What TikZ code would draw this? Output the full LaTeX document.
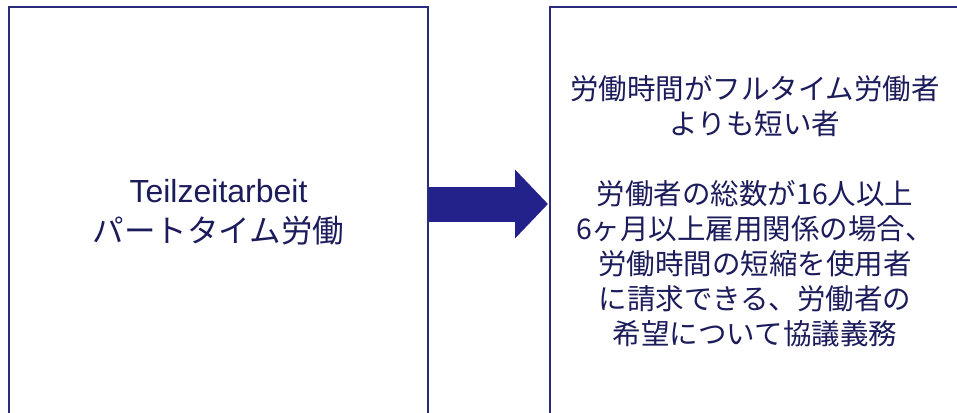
\documentclass[tikz,border=0pt]{standalone}
\usepackage{fontspec}
\setmainfont{Noto Sans CJK JP}
\newfontfamily\latinfont{Liberation Sans}
\usetikzlibrary{arrows.meta}
\definecolor{boxline}{HTML}{2B2B7B}
\definecolor{arrowfill}{HTML}{22228A}
\definecolor{txt}{HTML}{1C1C5C}
\tikzset{
  panel/.style={draw=boxline, line width=2pt, fill=white, minimum width=419pt, minimum height=410pt, inner sep=0pt},
  label/.style={text=txt, align=center, inner sep=0pt},
  bigarrow/.style={draw=arrowfill, line width=35pt, -{Triangle[width=67pt,length=33pt]}, shorten >=1pt}
}
\begin{document}
\begin{tikzpicture}[x=1pt,y=-1pt]
\useasboundingbox (0,0) rectangle (957,412);
\clip (0,0) rectangle (957,412);
\node[panel] (L) at (218.5,212) {};
\node[panel] (R) at (759.5,212) {};
\node[label, font={\fontsize{31.5}{40}\selectfont}] (Lt) at (218.5,212)
  {{\latinfont\fontsize{32}{40}\selectfont Teilzeitarbeit}\\
   パートタイム労働};
\node[label, font={\fontsize{28.5}{35}\selectfont}] (Rt) at (755,211)
  {労働時間がフルタイム労働者\\
   よりも短い者\\
   \mbox{}\\
   労働者の総数が16人以上\\
   6ヶ月以上雇用関係の場合、\\
   労働時間の短縮を使用者\\
   に請求できる、労働者の\\
   希望について協議義務};
\coordinate (a1) at (L.east |- 0,204);
\coordinate (a2) at (R.west |- 0,204);
\draw[bigarrow] (a1) -- (a2);
\end{tikzpicture}
\end{document}
